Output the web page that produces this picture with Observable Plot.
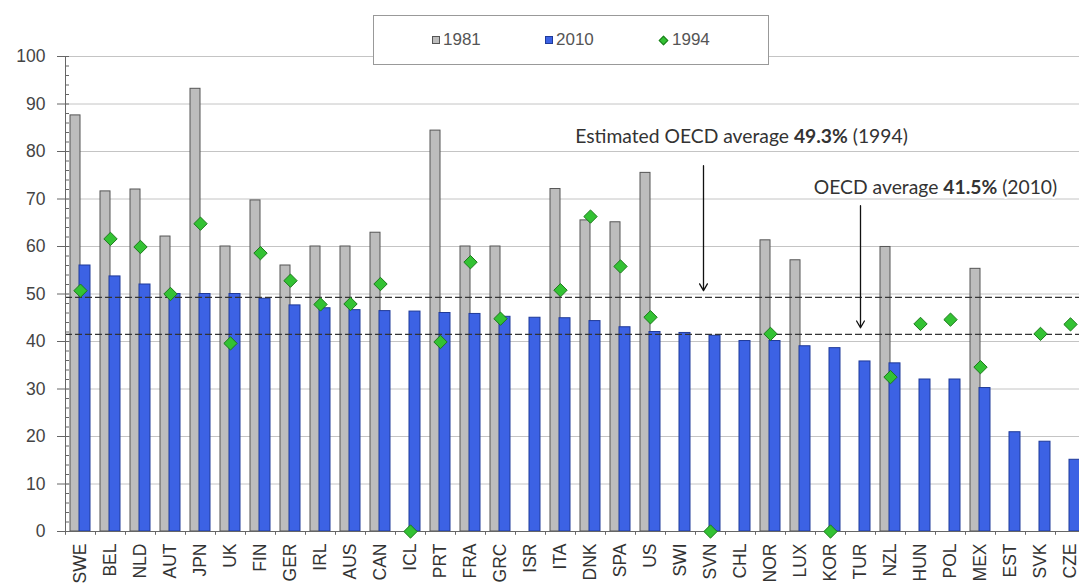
<!DOCTYPE html>
<html>
<head>
<meta charset="utf-8">
<script src="https://cdn.jsdelivr.net/npm/d3@7"></script>
<script src="https://cdn.jsdelivr.net/npm/@observablehq/plot@0.6"></script>
<style>
  html, body { margin: 0; padding: 0; background: #fff; overflow: hidden; }
  #wrap { position: relative; width: 1079px; height: 583px; overflow: hidden; }
  #legend { position: absolute; left: 373px; top: 15px; width: 396px; height: 50px;
    border: 1px solid #999; background: #fff; box-sizing: border-box;
    font-family: "Liberation Sans", Arial, sans-serif; font-size: 17px; color: #555; }
  .item { position: absolute; top: 15px; display: flex; align-items: center; line-height: 18px; }
  .sw { display: inline-block; width: 8px; height: 8px; margin-right: 3px; box-sizing: border-box; }
  .dia { display: inline-block; width: 7px; height: 7px; margin-right: 5px; transform: rotate(45deg);
    background: #33c233; border: 1px solid #1d7a1d; box-sizing: border-box; }
</style>
</head>
<body>
<div id="wrap">
  <div id="chart"></div>
  <div id="legend"></div>
</div>
<script>
const countries = ["SWE","BEL","NLD","AUT","JPN","UK","FIN","GER","IRL","AUS","CAN","ICL","PRT","FRA","GRC","ISR","ITA","DNK","SPA","US","SWI","SVN","CHL","NOR","LUX","KOR","TUR","NZL","HUN","POL","MEX","EST","SVK","CZE"];
const v1981 = [87.6, 71.6, 72.0, 62.1, 93.2, 60.0, 69.7, 56.0, 60.0, 60.0, 62.9, null, 84.4, 60.0, 60.0, null, 72.1, 65.5, 65.1, 75.5, null, null, null, 61.3, 57.1, null, null, 59.9, null, null, 55.3, null, null, null];
const v2010 = [56.0, 53.7, 52.0, 50.0, 50.0, 50.0, 49.0, 47.6, 47.0, 46.6, 46.4, 46.3, 46.0, 45.8, 45.2, 45.0, 44.9, 44.3, 43.0, 42.0, 41.8, 41.2, 40.1, 40.1, 39.0, 38.6, 35.8, 35.4, 32.0, 32.0, 30.2, 20.9, 18.9, 15.1];
const v1994 = [50.7, 61.6, 59.9, 50.0, 64.8, 39.6, 58.6, 52.8, 47.8, 47.9, 52.1, 0, 39.9, 56.7, 44.8, null, 50.8, 66.3, 55.8, 45.1, null, 0, null, 41.6, null, 0, null, 32.5, 43.7, 44.6, 34.6, null, 41.6, 43.6];
const seriesNames = ["1981", "2010", "1994"];
const averageLabels = ["Estimated OECD average ", "OECD average "];
const averageValues = [49.3, 41.5];
const averageYears = ["1994", "2010"];
const yTicks = d3.range(0, 101, 10);
const yMinor = d3.range(0, 101, 2);

const seriesColors = ["#bdbdbd", "#3c62e4", "#33c233"];
const rows = countries.map((c, i) => ({c, a: v1981[i], b: v2010[i], m: v1994[i]}));
const averages = averageValues.map((value, i) => ({label: averageLabels[i], value, year: averageYears[i]}));
const fullText = d => d.label + d.value + "% (" + d.year + ")";
const annFont = {fontFamily: "Lato, 'Open Sans', sans-serif", fontSize: 19.3, fill: "#333", stroke: "white", strokeWidth: 4, paintOrder: "stroke"};
const arrowStyle = {stroke: "#111", strokeWidth: 1.3, headLength: 9, bend: 0};

const plot = Plot.plot({
  width: 1079,
  height: 583,
  marginLeft: 65,
  marginRight: -6,
  marginTop: 56,
  marginBottom: 52,
  style: {background: "transparent", overflow: "hidden"},
  x: {type: "band", domain: countries, padding: 0},
  y: {domain: [0, 100]},
  marks: [
    Plot.ruleY(yTicks.filter(d => d > 0), {stroke: "#c4c4c4", strokeWidth: 1}),
    Plot.barY(rows.filter(d => d.a != null), {x: "c", y: "a", fill: seriesColors[0], stroke: "#555", strokeWidth: 1, insetLeft: 5, insetRight: 15}),
    Plot.barY(rows, {x: "c", y: "b", fill: seriesColors[1], stroke: "#1f3a99", strokeWidth: 1, insetLeft: 14, insetRight: 5}),
    Plot.ruleY(averages, {y: "value", stroke: "#333", strokeWidth: 1.3, strokeDasharray: "7,3"}),
    Plot.ruleY([0], {stroke: "#666", strokeWidth: 1}),
    Plot.ruleX([countries[0]], {dx: -15, y1: 0, y2: 100, stroke: "#666", strokeWidth: 1}),
    Plot.ruleX(countries, {x: d => d, dx: -15, y1: 0, y2: -0.8, stroke: "#666"}),
    Plot.tickY(yMinor, {x: () => countries[0], y: d => d, insetLeft: 0, insetRight: 26, stroke: "#666"}),
    Plot.dot(rows.filter(d => d.m != null), {x: "c", y: "m", symbol: "diamond2", r: 6, fill: seriesColors[2], stroke: "#1d7a1d", strokeWidth: 1}),
    Plot.arrow([averages[0]], {x1: () => "SVN", x2: () => "SVN", dx: -7, y1: () => 77, y2: d => d.value + 1.4, ...arrowStyle}),
    Plot.arrow([averages[1]], {x1: () => "TUR", x2: () => "TUR", dx: 0, y1: () => 68.6, y2: d => d.value + 1.4, ...arrowStyle}),
    Plot.text([averages[0]], {x: () => "CHL", y: () => 83, dx: 1, text: fullText, ...annFont}),
    Plot.text([averages[1]], {x: () => "HUN", y: () => 72.4, dx: 15, text: fullText, ...annFont}),
    Plot.axisY({ticks: yTicks, tickSize: 8, tickPadding: 12, fontSize: 17.5, fontFamily: "'Liberation Sans', Arial, sans-serif", label: null, stroke: "#666", color: "#444"}),
    Plot.axisX({tickSize: 0, tickPadding: 12, tickRotate: -90, fontSize: 17.5, fontFamily: "'Liberation Sans', Arial, sans-serif", label: null, color: "#333"})
  ]
});
document.getElementById("chart").appendChild(plot);

// put the value part of each annotation in bold
d3.select(plot).selectAll("text").each(function () {
  const t = this.textContent;
  const a = averages.find(d => t === fullText(d));
  if (!a) return;
  const el = d3.select(this);
  el.text(null);
  el.append("tspan").text(a.label);
  el.append("tspan").attr("font-weight", "bold").text(a.value + "%");
  el.append("tspan").text(" (" + a.year + ")");
});

// legend
const legend = d3.select("#legend");
const pos = [58, 171, 286];
seriesNames.forEach((name, k) => {
  const it = legend.append("div").attr("class", "item").style("left", pos[k] + "px");
  if (k < 2) {
    it.append("span").attr("class", "sw")
      .style("background", seriesColors[k])
      .style("border", "1px solid " + (k === 0 ? "#555" : "#1f3a99"));
  } else {
    it.append("span").attr("class", "dia");
  }
  it.append("span").text(name);
});
</script>
</body>
</html>
